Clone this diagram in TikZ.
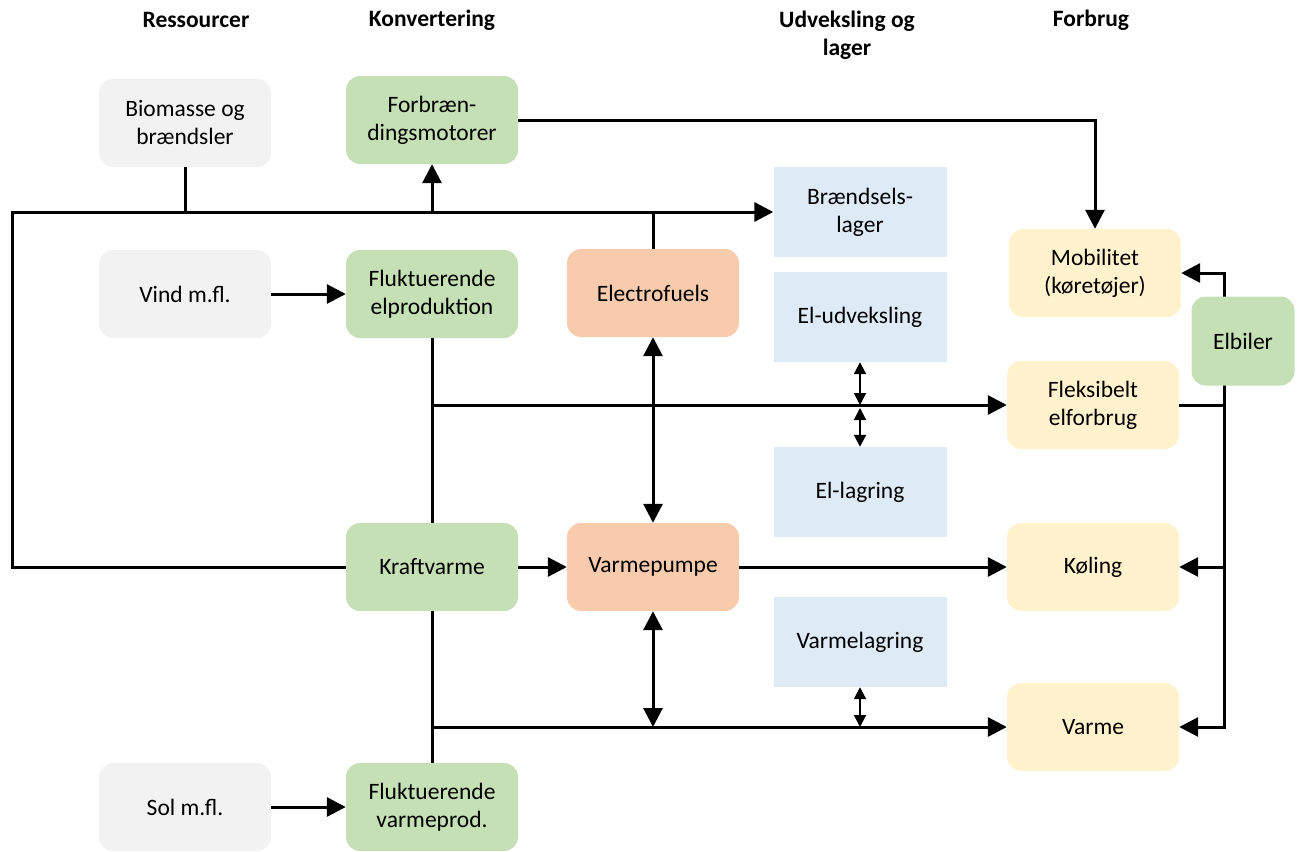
\documentclass[tikz,border=0pt]{standalone}
\usepackage{fontspec}
\setmainfont{Carlito}
\usetikzlibrary{arrows.meta}
\definecolor{resgray}{HTML}{F2F2F2}
\definecolor{convgreen}{HTML}{C5E0B4}
\definecolor{fuelorange}{HTML}{F8CBAD}
\definecolor{storeblue}{HTML}{DEEBF7}
\definecolor{demandyellow}{HTML}{FFF2CC}
\newcommand{\boxfont}{\fontsize{23.5}{28}\selectfont}

\tikzset{
	box/.style={rounded corners=14pt, minimum width=172pt, minimum height=88pt, align=center, inner sep=2pt, font=\boxfont},
	res/.style={box, fill=resgray},
	conv/.style={box, fill=convgreen},
	fuel/.style={box, fill=fuelorange},
	store/.style={minimum width=173pt, minimum height=90pt, align=center, inner sep=2pt, fill=storeblue, font=\boxfont},
	demand/.style={box, fill=demandyellow},
	colhead/.style={align=center, font=\boxfont\bfseries},
	link/.style={line width=3pt},
	flow/.style={line width=3pt, -{Triangle[length=19pt,width=19pt]}},
	twoway/.style={line width=3pt, {Triangle[length=19pt,width=19pt]}-{Triangle[length=19pt,width=19pt]}},
	smallway/.style={line width=2pt, {Triangle[length=12pt,width=12pt]}-{Triangle[length=12pt,width=12pt]}}
}

\begin{document}
\begin{tikzpicture}[x=1pt,y=-1pt]
	\useasboundingbox (0,0) rectangle (1303,851);
	%headings
	\node[colhead] (hres)  at (196,20)  {Ressourcer};
	\node[colhead] (hconv) at (432,20)  {Konvertering};
	\node[colhead] (hexch) at (847,35)  {Udveksling og\\lager};
	\node[colhead] (hdem)  at (1091,20) {Forbrug};
	
	%resources
	\node[res] (bio)  at (185,123) {Biomasse og\\brændsler};
	\node[res] (vind) at (185,294) {Vind m.fl.};
	\node[res] (sol)  at (185,807) {Sol m.fl.};
	
	%conversion
	\node[conv] (motor)     at (432,120) {Forbræn-\\dingsmotorer};
	\node[conv] (flukel)    at (432,294) {Fluktuerende\\elproduktion};
	\node[conv] (kraft)     at (432,567) {Kraftvarme};
	\node[conv] (flukvarme) at (432,807) {Fluktuerende\\varmeprod.};
	\node[fuel] (efuel)     at (653,293) {Electrofuels};
	\node[fuel] (pumpe)     at (653,567) {Varmepumpe};
	
	%exchange and storage
	\node[store] (lager)    at (860,212) {Brændsels-\\lager};
	\node[store] (eludv)    at (860,317) {El-udveksling};
	\node[store] (ellag)    at (860,492) {El-lagring};
	\node[store] (varmelag) at (860,642) {Varmelagring};
	
	%demand
	\node[demand] (mobil) at (1095,273) {Mobilitet\\(køretøjer)};
	\node[demand] (flex)  at (1093,405) {Fleksibelt\\elforbrug};
	\node[demand] (koel)  at (1093,567) {Køling};
	\node[demand] (varme) at (1093,727) {Varme};
	
	%buses
	\coordinate (fuelbus) at (12,212);
	\coordinate (elbus)   at (432,405);
	\coordinate (heatbus) at (432,727);
	\coordinate (carbus)  at (1224,405);
	
	%arrows
	\draw[flow] (kraft.west) -| (fuelbus) -- (fuelbus -| lager.west);	%kraftvarme--lager
	\draw[link] (bio.south) -- (bio.south |- fuelbus);						%biomasse--bus
	\draw[flow] (motor.south |- fuelbus) -- (motor.south);					%bus--motorer
	\draw[link] (efuel.north) -- (efuel.north |- fuelbus);					%electrofuels--bus
	\draw[flow] (motor.east) -| (mobil.north);								%motorer--mobilitet
	\draw[flow] (vind.east) -- (flukel.west);								%vind--el
	\draw[flow] (sol.east) -- (flukvarme.west);								%sol--varme
	\draw[link] (flukel.south) -- (kraft.north);
	\draw[link] (kraft.south) -- (flukvarme.north);
	\draw[flow] (elbus) -- (flex.west);										%el--fleksibelt
	\draw[flow] (heatbus) -- (varme.west);									%varme--varme
	\draw[flow] (kraft.east) -- (pumpe.west);								%kraftvarme--pumpe
	\draw[flow] (pumpe.east) -- (koel.west);								%pumpe--koeling
	\draw[twoway] (efuel.south) -- (pumpe.north);							%electrofuels--pumpe
	\draw[twoway] (pumpe.south) -- (pumpe.south |- heatbus);				%pumpe--varme
	\draw[smallway] (eludv.south) -- (eludv.south |- flex.west);			%udveksling--el
	\draw[smallway] ([yshift=-3pt]eludv.south |- flex.west) -- (ellag.north);	%el--lagring
	\draw[smallway] (varmelag.south) -- (varmelag.south |- heatbus);		%varmelagring--varme
	%
	\draw[link] (flex.east) -- (carbus);									%fleksibelt--elbiler
	\draw[flow] (carbus) |- (mobil.east);
	\draw[flow] (carbus) |- (varme.east);
	\draw[flow] (carbus |- koel.east) -- (koel.east);
	\node[conv, minimum width=103pt, minimum height=89pt] (elbil) at (1243,341) {Elbiler};
\end{tikzpicture}
\end{document}
